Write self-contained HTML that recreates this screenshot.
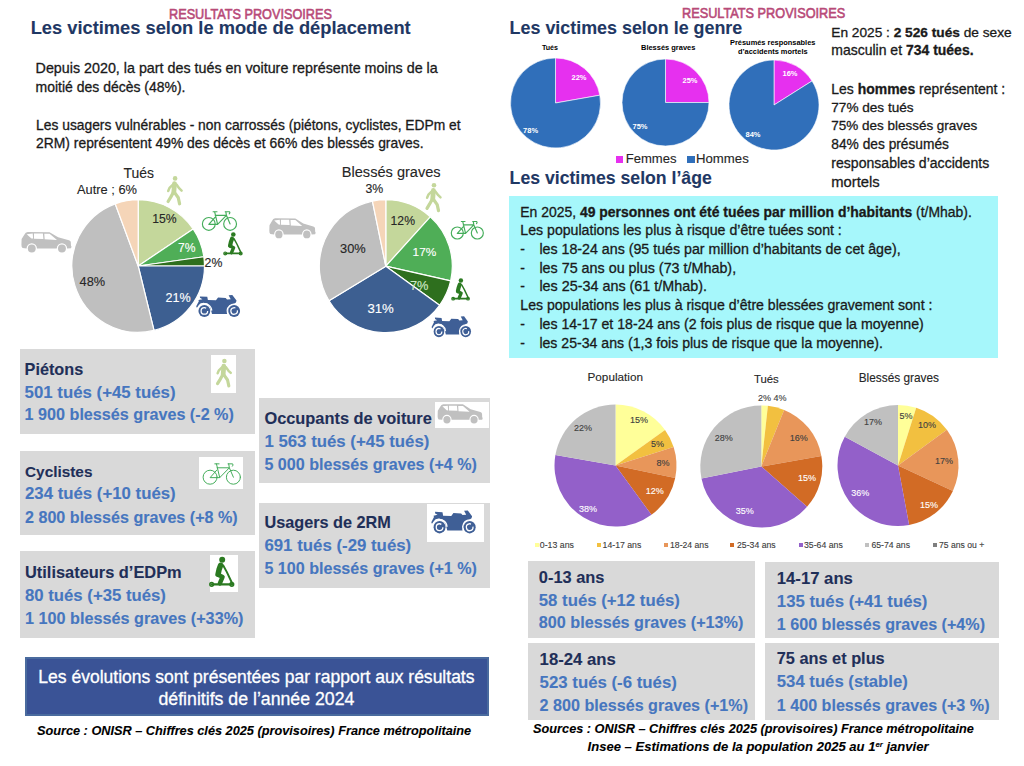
<!DOCTYPE html><html><head><meta charset="utf-8"><style>
html,body{margin:0;padding:0;background:#fff;width:1024px;height:766px;overflow:hidden}
body{position:relative;font-family:"Liberation Sans",sans-serif}
.t{position:absolute;white-space:pre}
.k{-webkit-text-stroke:0.3px currentColor}
.kb{-webkit-text-stroke:0.1px currentColor}
.k2{-webkit-text-stroke:0.6px currentColor}
.ka{-webkit-text-stroke:0.12px currentColor}
.r{position:absolute}
svg{position:absolute;left:0;top:0}
</style></head><body>
<div class="r" style="left:20px;top:349px;width:235px;height:85px;background:#d9d9d9;"></div>
<div class="r" style="left:20px;top:451px;width:235px;height:84px;background:#d9d9d9;"></div>
<div class="r" style="left:20px;top:551px;width:235px;height:87px;background:#d9d9d9;"></div>
<div class="r" style="left:259px;top:398px;width:231px;height:85px;background:#d9d9d9;"></div>
<div class="r" style="left:259px;top:503px;width:231px;height:85px;background:#d9d9d9;"></div>
<div class="r" style="left:25px;top:657px;width:464px;height:59px;background:#3a5396;box-sizing:border-box;border:2px solid #4a6b9e"></div>
<div class="r" style="left:509px;top:196px;width:489px;height:162px;background:#a6f7fb;"></div>
<div class="r" style="left:528px;top:561px;width:227px;height:77px;background:#d9d9d9;"></div>
<div class="r" style="left:528px;top:643px;width:227px;height:77px;background:#d9d9d9;"></div>
<div class="r" style="left:765px;top:562px;width:234px;height:76px;background:#d9d9d9;"></div>
<div class="r" style="left:765px;top:643px;width:234px;height:77px;background:#d9d9d9;"></div>
<div class="r" style="left:211px;top:355px;width:25px;height:38px;background:#fff;"></div>
<div class="r" style="left:199px;top:457px;width:44px;height:32px;background:#fff;"></div>
<div class="r" style="left:210px;top:555px;width:28px;height:37px;background:#fff;"></div>
<div class="r" style="left:435px;top:402px;width:54px;height:26px;background:#fff;"></div>
<div class="r" style="left:427px;top:504px;width:57px;height:38px;background:#fff;"></div>
<div class="r" style="left:615.5px;top:155.5px;width:7.5px;height:7.5px;background:#e630ef;"></div>
<div class="r" style="left:687px;top:155.5px;width:7.5px;height:7.5px;background:#306fba;"></div>
<div class="r" style="left:534.7px;top:543px;width:4.0px;height:4px;background:#ffff99;"></div>
<div class="r" style="left:596.8px;top:543px;width:4.0px;height:4px;background:#f2c040;"></div>
<div class="r" style="left:663.6px;top:543px;width:4.0px;height:4px;background:#e8965a;"></div>
<div class="r" style="left:730.4px;top:543px;width:4.0px;height:4px;background:#d26b25;"></div>
<div class="r" style="left:798.6px;top:543px;width:4.0px;height:4px;background:#9360c9;"></div>
<div class="r" style="left:865.3px;top:543px;width:4.0px;height:4px;background:#c0c0c0;"></div>
<div class="r" style="left:933px;top:543px;width:4px;height:4px;background:#7f7f7f;"></div>
<svg width="1024" height="766" viewBox="0 0 1024 766">
<path d="M138.20,266.00 L138.20,199.70 A66.3,66.3 0 0 1 193.17,228.93 Z" fill="#c4d79b" stroke="#fff" stroke-width="1.2" stroke-linejoin="round"/>
<path d="M138.20,266.00 L193.17,228.93 A66.3,66.3 0 0 1 203.85,256.77 Z" fill="#4fae57" stroke="#fff" stroke-width="1.2" stroke-linejoin="round"/>
<path d="M138.20,266.00 L203.85,256.77 A66.3,66.3 0 0 1 204.50,266.00 Z" fill="#2e6f1e" stroke="#fff" stroke-width="1.2" stroke-linejoin="round"/>
<path d="M138.20,266.00 L204.50,266.00 A66.3,66.3 0 0 1 154.01,330.39 Z" fill="#3d5f91" stroke="#fff" stroke-width="1.2" stroke-linejoin="round"/>
<path d="M138.20,266.00 L154.01,330.39 A66.3,66.3 0 0 1 115.20,203.82 Z" fill="#bfbfbf" stroke="#fff" stroke-width="1.2" stroke-linejoin="round"/>
<path d="M138.20,266.00 L115.20,203.82 A66.3,66.3 0 0 1 138.20,199.70 Z" fill="#f5d5b8" stroke="#fff" stroke-width="1.2" stroke-linejoin="round"/>
<path d="M385.80,266.20 L385.80,199.70 A66.5,66.5 0 0 1 430.30,216.78 Z" fill="#c4d79b" stroke="#fff" stroke-width="1.2" stroke-linejoin="round"/>
<path d="M385.80,266.20 L430.30,216.78 A66.5,66.5 0 0 1 450.65,280.93 Z" fill="#4fae57" stroke="#fff" stroke-width="1.2" stroke-linejoin="round"/>
<path d="M385.80,266.20 L450.65,280.93 A66.5,66.5 0 0 1 439.60,305.29 Z" fill="#2e6f1e" stroke="#fff" stroke-width="1.2" stroke-linejoin="round"/>
<path d="M385.80,266.20 L439.60,305.29 A66.5,66.5 0 0 1 328.98,300.75 Z" fill="#3d5f91" stroke="#fff" stroke-width="1.2" stroke-linejoin="round"/>
<path d="M385.80,266.20 L328.98,300.75 A66.5,66.5 0 0 1 372.43,201.06 Z" fill="#bfbfbf" stroke="#fff" stroke-width="1.2" stroke-linejoin="round"/>
<path d="M385.80,266.20 L372.43,201.06 A66.5,66.5 0 0 1 385.80,199.70 Z" fill="#f5d5b8" stroke="#fff" stroke-width="1.2" stroke-linejoin="round"/>
<path d="M555.50,103.00 L555.50,58.00 A45,45 0 0 1 599.82,95.19 Z" fill="#e630ef" stroke="#fff" stroke-width="0.6" stroke-linejoin="round"/>
<path d="M555.50,103.00 L599.82,95.19 A45,45 0 1 1 555.50,58.00 Z" fill="#306fba" stroke="#fff" stroke-width="0.6" stroke-linejoin="round"/>
<path d="M665.50,102.50 L665.50,59.00 A43.5,43.5 0 0 1 709.00,102.50 Z" fill="#e630ef" stroke="#fff" stroke-width="0.6" stroke-linejoin="round"/>
<path d="M665.50,102.50 L709.00,102.50 A43.5,43.5 0 1 1 665.50,59.00 Z" fill="#306fba" stroke="#fff" stroke-width="0.6" stroke-linejoin="round"/>
<path d="M774.00,105.00 L774.00,60.00 A45,45 0 0 1 812.04,80.95 Z" fill="#e630ef" stroke="#fff" stroke-width="0.6" stroke-linejoin="round"/>
<path d="M774.00,105.00 L812.04,80.95 A45,45 0 1 1 774.00,60.00 Z" fill="#306fba" stroke="#fff" stroke-width="0.6" stroke-linejoin="round"/>
<path d="M615.50,465.50 L615.50,404.50 A61,61 0 0 1 665.04,429.90 Z" fill="#ffff99" stroke="none"/>
<path d="M615.50,465.50 L665.04,429.90 A61,61 0 0 1 673.61,446.95 Z" fill="#f2c040" stroke="none"/>
<path d="M615.50,465.50 L673.61,446.95 A61,61 0 0 1 675.21,477.97 Z" fill="#e8965a" stroke="none"/>
<path d="M615.50,465.50 L675.21,477.97 A61,61 0 0 1 651.44,514.79 Z" fill="#d26b25" stroke="none"/>
<path d="M615.50,465.50 L651.44,514.79 A61,61 0 0 1 555.39,455.12 Z" fill="#9360c9" stroke="none"/>
<path d="M615.50,465.50 L555.39,455.12 A61,61 0 0 1 615.50,404.50 Z" fill="#c0c0c0" stroke="none"/>
<path d="M761.30,466.50 L761.30,405.50 A61,61 0 0 1 767.89,405.86 Z" fill="#ffff99" stroke="none"/>
<path d="M761.30,466.50 L767.89,405.86 A61,61 0 0 1 784.15,409.94 Z" fill="#f2c040" stroke="none"/>
<path d="M761.30,466.50 L784.15,409.94 A61,61 0 0 1 821.37,455.91 Z" fill="#e8965a" stroke="none"/>
<path d="M761.30,466.50 L821.37,455.91 A61,61 0 0 1 807.06,506.84 Z" fill="#d26b25" stroke="none"/>
<path d="M761.30,466.50 L807.06,506.84 A61,61 0 0 1 701.48,478.45 Z" fill="#9360c9" stroke="none"/>
<path d="M761.30,466.50 L701.48,478.45 A61,61 0 0 1 761.30,405.50 Z" fill="#c0c0c0" stroke="none"/>
<path d="M898.00,465.50 L898.00,405.00 A60.5,60.5 0 0 1 916.19,407.80 Z" fill="#ffff99" stroke="none"/>
<path d="M898.00,465.50 L916.19,407.80 A60.5,60.5 0 0 1 946.88,429.85 Z" fill="#f2c040" stroke="none"/>
<path d="M898.00,465.50 L946.88,429.85 A60.5,60.5 0 0 1 952.88,490.97 Z" fill="#e8965a" stroke="none"/>
<path d="M898.00,465.50 L952.88,490.97 A60.5,60.5 0 0 1 909.13,524.97 Z" fill="#d26b25" stroke="none"/>
<path d="M898.00,465.50 L909.13,524.97 A60.5,60.5 0 0 1 844.78,436.72 Z" fill="#9360c9" stroke="none"/>
<path d="M898.00,465.50 L844.78,436.72 A60.5,60.5 0 0 1 898.00,405.00 Z" fill="#c0c0c0" stroke="none"/>
<g transform="translate(21.3,232) scale(0.06350,0.06375)">
<path fill="#c0c0c0" d="M5,110 L50,40 Q65,5 100,0 L445,2 L580,82 L750,130 Q780,140 780,160 L782,210 Q800,230 782,255 L722,258 A82,82 0 0 0 558,258 L247,258 A82,82 0 0 0 83,258 L20,252 Q0,235 2,200 Z"/>
<path fill="#fff" d="M85,35 L180,25 L186,102 L160,100 Z M200,25 L340,25 L348,108 L200,105 Z M362,28 L445,28 L562,125 L368,115 Z"/>
<circle cx="165" cy="258" r="62" fill="#c0c0c0"/><circle cx="640" cy="258" r="62" fill="#c0c0c0"/>
</g>
<g transform="translate(269.2,218.3) scale(0.05875,0.06250)">
<path fill="#c0c0c0" d="M5,110 L50,40 Q65,5 100,0 L445,2 L580,82 L750,130 Q780,140 780,160 L782,210 Q800,230 782,255 L722,258 A82,82 0 0 0 558,258 L247,258 A82,82 0 0 0 83,258 L20,252 Q0,235 2,200 Z"/>
<path fill="#fff" d="M85,35 L180,25 L186,102 L160,100 Z M200,25 L340,25 L348,108 L200,105 Z M362,28 L445,28 L562,125 L368,115 Z"/>
<circle cx="165" cy="258" r="62" fill="#c0c0c0"/><circle cx="640" cy="258" r="62" fill="#c0c0c0"/>
</g>
<g transform="translate(437.5,404.2) scale(0.05713,0.06062)">
<path fill="#c0c0c0" d="M5,110 L50,40 Q65,5 100,0 L445,2 L580,82 L750,130 Q780,140 780,160 L782,210 Q800,230 782,255 L722,258 A82,82 0 0 0 558,258 L247,258 A82,82 0 0 0 83,258 L20,252 Q0,235 2,200 Z"/>
<path fill="#fff" d="M85,35 L180,25 L186,102 L160,100 Z M200,25 L340,25 L348,108 L200,105 Z M362,28 L445,28 L562,125 L368,115 Z"/>
<circle cx="165" cy="258" r="62" fill="#c0c0c0"/><circle cx="640" cy="258" r="62" fill="#c0c0c0"/>
</g>
<g transform="translate(175.1,178.4) scale(1.0)" stroke="#c4d79b" stroke-linecap="round" stroke-linejoin="round" fill="none">
<circle cx="0" cy="0" r="2.3" fill="#c4d79b" stroke="none"/>
<path d="M-0.6,5.2 L-1.3,14" stroke-width="4.8"/>
<path d="M-2.2,6.2 L-5.6,9.5 L-6.9,12.6" stroke-width="2.5"/>
<path d="M1.4,6.2 L4.2,10 L6.5,12.2" stroke-width="2.5"/>
<path d="M-2,14.5 L-4.5,19 L-7.0,23.1" stroke-width="3.2"/>
<path d="M-0.3,14.5 L3.2,19.4 L4.5,25.4" stroke-width="3.2"/>
</g>
<g transform="translate(434,185.2) scale(1.0)" stroke="#c4d79b" stroke-linecap="round" stroke-linejoin="round" fill="none">
<circle cx="0" cy="0" r="2.3" fill="#c4d79b" stroke="none"/>
<path d="M-0.6,5.2 L-1.3,14" stroke-width="4.8"/>
<path d="M-2.2,6.2 L-5.6,9.5 L-6.9,12.6" stroke-width="2.5"/>
<path d="M1.4,6.2 L4.2,10 L6.5,12.2" stroke-width="2.5"/>
<path d="M-2,14.5 L-4.5,19 L-7.0,23.1" stroke-width="3.2"/>
<path d="M-0.3,14.5 L3.2,19.4 L4.5,25.4" stroke-width="3.2"/>
</g>
<g transform="translate(224.4,361) scale(0.98)" stroke="#c4d79b" stroke-linecap="round" stroke-linejoin="round" fill="none">
<circle cx="0" cy="0" r="2.3" fill="#c4d79b" stroke="none"/>
<path d="M-0.6,5.2 L-1.3,14" stroke-width="4.8"/>
<path d="M-2.2,6.2 L-5.6,9.5 L-6.9,12.6" stroke-width="2.5"/>
<path d="M1.4,6.2 L4.2,10 L6.5,12.2" stroke-width="2.5"/>
<path d="M-2,14.5 L-4.5,19 L-7.0,23.1" stroke-width="3.2"/>
<path d="M-0.3,14.5 L3.2,19.4 L4.5,25.4" stroke-width="3.2"/>
</g>
<g transform="translate(208.8,223.9) scale(1.0)" stroke="#44ad5a" stroke-width="1.150" fill="none" stroke-linecap="round" stroke-linejoin="round">
<circle cx="0" cy="0" r="6.4"/><circle cx="21.3" cy="0" r="6.4"/>
<path d="M4.3,-12.2 L8.2,-12.2 M5.8,-12.2 L8.8,0.4 L0,0.4 L6.2,-6.6 M6.4,-8.6 L17.6,-8.6 L8.8,0.4 M17.0,-12.2 L17.6,-8.6 L21.3,0 M16.4,-12.2 L20.6,-12.2 Q21.6,-11.2 20.4,-10"/>
</g>
<g transform="translate(457.3,233) scale(0.94)" stroke="#44ad5a" stroke-width="1.223" fill="none" stroke-linecap="round" stroke-linejoin="round">
<circle cx="0" cy="0" r="6.4"/><circle cx="21.3" cy="0" r="6.4"/>
<path d="M4.3,-12.2 L8.2,-12.2 M5.8,-12.2 L8.8,0.4 L0,0.4 L6.2,-6.6 M6.4,-8.6 L17.6,-8.6 L8.8,0.4 M17.0,-12.2 L17.6,-8.6 L21.3,0 M16.4,-12.2 L20.6,-12.2 Q21.6,-11.2 20.4,-10"/>
</g>
<g transform="translate(210.1,477.2) scale(1.094)" stroke="#44ad5a" stroke-width="0.914" fill="none" stroke-linecap="round" stroke-linejoin="round">
<circle cx="0" cy="0" r="6.4"/><circle cx="21.3" cy="0" r="6.4"/>
<path d="M4.3,-12.2 L8.2,-12.2 M5.8,-12.2 L8.8,0.4 L0,0.4 L6.2,-6.6 M6.4,-8.6 L17.6,-8.6 L8.8,0.4 M17.0,-12.2 L17.6,-8.6 L21.3,0 M16.4,-12.2 L20.6,-12.2 Q21.6,-11.2 20.4,-10"/>
</g>
<g transform="translate(233.3,234.5) scale(1.0)" stroke="#2b7a21" fill="none" stroke-linecap="round" stroke-linejoin="round">
<circle cx="0" cy="0" r="2.3" fill="#2b7a21" stroke="none"/>
<path d="M-1.2,4.2 L-2.4,7.5 L-3.2,11.2" stroke-width="4.2"/>
<path d="M-3.2,11.4 L0.3,13.2 L-1.8,18.2" stroke-width="3.4"/>
<path d="M0.8,4.4 L3.6,9.5 L7.9,18.6" stroke-width="1.5"/>
<path d="M-8.2,18.9 L7.6,18.9" stroke-width="1.7"/>
<circle cx="-8.1" cy="18.9" r="1.4" stroke-width="1.2"/><circle cx="7.4" cy="18.9" r="1.4" stroke-width="1.2"/>
</g>
<g transform="translate(460.9,280.5) scale(0.96)" stroke="#2b7a21" fill="none" stroke-linecap="round" stroke-linejoin="round">
<circle cx="0" cy="0" r="2.3" fill="#2b7a21" stroke="none"/>
<path d="M-1.2,4.2 L-2.4,7.5 L-3.2,11.2" stroke-width="4.2"/>
<path d="M-3.2,11.4 L0.3,13.2 L-1.8,18.2" stroke-width="3.4"/>
<path d="M0.8,4.4 L3.6,9.5 L7.9,18.6" stroke-width="1.5"/>
<path d="M-8.2,18.9 L7.6,18.9" stroke-width="1.7"/>
<circle cx="-8.1" cy="18.9" r="1.4" stroke-width="1.2"/><circle cx="7.4" cy="18.9" r="1.4" stroke-width="1.2"/>
</g>
<g transform="translate(222.2,559.8) scale(1.3)" stroke="#2b7a21" fill="none" stroke-linecap="round" stroke-linejoin="round">
<circle cx="0" cy="0" r="2.3" fill="#2b7a21" stroke="none"/>
<path d="M-1.2,4.2 L-2.4,7.5 L-3.2,11.2" stroke-width="4.2"/>
<path d="M-3.2,11.4 L0.3,13.2 L-1.8,18.2" stroke-width="3.4"/>
<path d="M0.8,4.4 L3.6,9.5 L7.9,18.6" stroke-width="1.5"/>
<path d="M-8.2,18.9 L7.6,18.9" stroke-width="1.7"/>
<circle cx="-8.1" cy="18.9" r="1.4" stroke-width="1.2"/><circle cx="7.4" cy="18.9" r="1.4" stroke-width="1.2"/>
</g>
<g transform="translate(196.2,294.9) scale(0.05270,0.05270) translate(-80,-130)">
<path fill="#3f5f96" d="M150,158 L290,165 L302,228 L455,232 L495,180 L640,188 L665,215 L735,212 L695,138 L765,132 L845,235 L835,272 L770,312 L705,338 L668,492 L380,492 L350,380 L300,300 L220,278 L160,292 L92,372 L80,345 L130,250 L122,228 L198,212 L152,186 Z"/>
<circle cx="235" cy="435" r="140" fill="none" stroke="#fff" stroke-width="24" stroke-dasharray="345 1000" transform="rotate(215 235 435)"/>
<circle cx="800" cy="435" r="132" fill="none" stroke="#fff" stroke-width="24" stroke-dasharray="300 1000" transform="rotate(140 800 435)"/>
<circle cx="235" cy="435" r="112" fill="#3f5f96"/>
<circle cx="800" cy="435" r="112" fill="#3f5f96"/>
<circle cx="235" cy="435" r="62" fill="none" stroke="#fff" stroke-width="24" stroke-dasharray="320 1000" transform="rotate(0 235 435)"/>
<circle cx="800" cy="435" r="62" fill="none" stroke="#fff" stroke-width="24" stroke-dasharray="320 1000" transform="rotate(-10 800 435)"/>
</g>
<g transform="translate(431.6,316.1) scale(0.04740,0.05080) translate(-80,-130)">
<path fill="#3f5f96" d="M150,158 L290,165 L302,228 L455,232 L495,180 L640,188 L665,215 L735,212 L695,138 L765,132 L845,235 L835,272 L770,312 L705,338 L668,492 L380,492 L350,380 L300,300 L220,278 L160,292 L92,372 L80,345 L130,250 L122,228 L198,212 L152,186 Z"/>
<circle cx="235" cy="435" r="140" fill="none" stroke="#fff" stroke-width="24" stroke-dasharray="345 1000" transform="rotate(215 235 435)"/>
<circle cx="800" cy="435" r="132" fill="none" stroke="#fff" stroke-width="24" stroke-dasharray="300 1000" transform="rotate(140 800 435)"/>
<circle cx="235" cy="435" r="112" fill="#3f5f96"/>
<circle cx="800" cy="435" r="112" fill="#3f5f96"/>
<circle cx="235" cy="435" r="62" fill="none" stroke="#fff" stroke-width="24" stroke-dasharray="320 1000" transform="rotate(0 235 435)"/>
<circle cx="800" cy="435" r="62" fill="none" stroke="#fff" stroke-width="24" stroke-dasharray="320 1000" transform="rotate(-10 800 435)"/>
</g>
<g transform="translate(431.3,510.3) scale(0.05330,0.05550) translate(-80,-130)">
<path fill="#3f5f96" d="M150,158 L290,165 L302,228 L455,232 L495,180 L640,188 L665,215 L735,212 L695,138 L765,132 L845,235 L835,272 L770,312 L705,338 L668,492 L380,492 L350,380 L300,300 L220,278 L160,292 L92,372 L80,345 L130,250 L122,228 L198,212 L152,186 Z"/>
<circle cx="235" cy="435" r="140" fill="none" stroke="#fff" stroke-width="24" stroke-dasharray="345 1000" transform="rotate(215 235 435)"/>
<circle cx="800" cy="435" r="132" fill="none" stroke="#fff" stroke-width="24" stroke-dasharray="300 1000" transform="rotate(140 800 435)"/>
<circle cx="235" cy="435" r="112" fill="#3f5f96"/>
<circle cx="800" cy="435" r="112" fill="#3f5f96"/>
<circle cx="235" cy="435" r="62" fill="none" stroke="#fff" stroke-width="24" stroke-dasharray="320 1000" transform="rotate(0 235 435)"/>
<circle cx="800" cy="435" r="62" fill="none" stroke="#fff" stroke-width="24" stroke-dasharray="320 1000" transform="rotate(-10 800 435)"/>
</g>
</svg>
<div class="t k2" style="left:169.00px;top:5.52px;font-size:14.525px;line-height:17.43px;font-weight:normal;font-style:normal;color:#b84a78;transform:scaleX(0.8743);transform-origin:0 0">RESULTATS PROVISOIRES</div>
<div class="t kb" style="left:30.70px;top:17.21px;font-size:18.296px;line-height:21.96px;font-weight:bold;font-style:normal;color:#1f3864">Les victimes selon le mode de déplacement</div>
<div class="t k" style="left:35.60px;top:59.71px;font-size:14.306px;line-height:17.17px;font-weight:normal;font-style:normal;color:#1a1a1a">Depuis 2020, la part des tués en voiture représente moins de la</div>
<div class="t k" style="left:35.60px;top:78.81px;font-size:13.983px;line-height:16.78px;font-weight:normal;font-style:normal;color:#1a1a1a">moitié des décès (48%).</div>
<div class="t k" style="left:36.10px;top:116.80px;font-size:13.828px;line-height:16.59px;font-weight:normal;font-style:normal;color:#1a1a1a">Les usagers vulnérables - non carrossés (piétons, cyclistes, EDPm et</div>
<div class="t k" style="left:36.10px;top:135.21px;font-size:13.874px;line-height:16.65px;font-weight:normal;font-style:normal;color:#1a1a1a">2RM) représentent 49% des décès et 66% des blessés graves.</div>
<div class="t ka" style="left:123.50px;top:164.61px;font-size:13.952px;line-height:16.74px;font-weight:normal;font-style:normal;color:#262626">Tués</div>
<div class="t ka" style="left:77.00px;top:181.70px;font-size:12.851px;line-height:15.42px;font-weight:normal;font-style:normal;color:#262626">Autre ; 6%</div>
<div class="t ka" style="left:152.30px;top:212.01px;font-size:12.190px;line-height:14.63px;font-weight:normal;font-style:normal;color:#262626">15%</div>
<div class="t ka" style="left:178.00px;top:241.31px;font-size:12.108px;line-height:14.53px;font-weight:normal;font-style:normal;color:#ffffff">7%</div>
<div class="t ka" style="left:204.60px;top:256.41px;font-size:12.316px;line-height:14.78px;font-weight:normal;font-style:normal;color:#262626">2%</div>
<div class="t ka" style="left:165.50px;top:291.00px;font-size:12.590px;line-height:15.11px;font-weight:normal;font-style:normal;color:#ffffff">21%</div>
<div class="t ka" style="left:79.60px;top:273.71px;font-size:12.790px;line-height:15.35px;font-weight:normal;font-style:normal;color:#262626">48%</div>
<div class="t ka" style="left:341.80px;top:164.01px;font-size:14.585px;line-height:17.5px;font-weight:normal;font-style:normal;color:#262626">Blessés graves</div>
<div class="t ka" style="left:365.50px;top:181.51px;font-size:12.316px;line-height:14.78px;font-weight:normal;font-style:normal;color:#262626">3%</div>
<div class="t ka" style="left:390.60px;top:213.71px;font-size:12.190px;line-height:14.63px;font-weight:normal;font-style:normal;color:#262626">12%</div>
<div class="t ka" style="left:412.60px;top:245.40px;font-size:11.841px;line-height:14.21px;font-weight:normal;font-style:normal;color:#ffffff">17%</div>
<div class="t ka" style="left:410.00px;top:278.01px;font-size:12.800px;line-height:15.36px;font-weight:normal;font-style:normal;color:#cfe8c8">7%</div>
<div class="t ka" style="left:367.40px;top:301.31px;font-size:13.190px;line-height:15.83px;font-weight:normal;font-style:normal;color:#ffffff">31%</div>
<div class="t ka" style="left:340.00px;top:240.81px;font-size:12.840px;line-height:15.41px;font-weight:normal;font-style:normal;color:#262626">30%</div>
<div class="t kb" style="left:24.60px;top:360.00px;font-size:16.224px;line-height:19.47px;font-weight:bold;font-style:normal;color:#1f2f58">Piétons</div>
<div class="t kb" style="left:24.60px;top:383.00px;font-size:16.822px;line-height:20.19px;font-weight:bold;font-style:normal;color:#4676bf">501 tués (+45 tués)</div>
<div class="t kb" style="left:24.60px;top:405.01px;font-size:16.167px;line-height:19.4px;font-weight:bold;font-style:normal;color:#4676bf">1 900 blessés graves (-2 %)</div>
<div class="t kb" style="left:25.00px;top:462.50px;font-size:15.370px;line-height:18.44px;font-weight:bold;font-style:normal;color:#1f2f58">Cyclistes</div>
<div class="t kb" style="left:25.00px;top:484.01px;font-size:16.799px;line-height:20.16px;font-weight:bold;font-style:normal;color:#4676bf">234 tués (+10 tués)</div>
<div class="t kb" style="left:25.00px;top:507.50px;font-size:16.125px;line-height:19.35px;font-weight:bold;font-style:normal;color:#4676bf">2 800 blessés graves (+8 %)</div>
<div class="t kb" style="left:25.00px;top:563.00px;font-size:16.405px;line-height:19.69px;font-weight:bold;font-style:normal;color:#1f2f58">Utilisateurs d’EDPm</div>
<div class="t kb" style="left:25.00px;top:586.01px;font-size:16.745px;line-height:20.09px;font-weight:bold;font-style:normal;color:#4676bf">80 tués (+35 tués)</div>
<div class="t kb" style="left:25.00px;top:609.01px;font-size:16.215px;line-height:19.46px;font-weight:bold;font-style:normal;color:#4676bf">1 100 blessés graves (+33%)</div>
<div class="t kb" style="left:264.40px;top:409.01px;font-size:16.382px;line-height:19.66px;font-weight:bold;font-style:normal;color:#1f2f58">Occupants de voiture</div>
<div class="t kb" style="left:264.40px;top:431.90px;font-size:16.829px;line-height:20.19px;font-weight:bold;font-style:normal;color:#4676bf">1 563 tués (+45 tués)</div>
<div class="t kb" style="left:264.40px;top:454.60px;font-size:16.102px;line-height:19.32px;font-weight:bold;font-style:normal;color:#4676bf">5 000 blessés graves (+4 %)</div>
<div class="t kb" style="left:264.40px;top:513.31px;font-size:16.258px;line-height:19.51px;font-weight:bold;font-style:normal;color:#1f2f58">Usagers de 2RM</div>
<div class="t kb" style="left:264.40px;top:536.00px;font-size:16.835px;line-height:20.2px;font-weight:bold;font-style:normal;color:#4676bf">691 tués (-29 tués)</div>
<div class="t kb" style="left:264.40px;top:559.01px;font-size:16.102px;line-height:19.32px;font-weight:bold;font-style:normal;color:#4676bf">5 100 blessés graves (+1 %)</div>
<div class="t k" style="left:38.30px;top:666.51px;font-size:17.528px;line-height:21.03px;font-weight:normal;font-style:normal;color:#ffffff">Les évolutions sont présentées par rapport aux résultats</div>
<div class="t k" style="left:158.50px;top:688.51px;font-size:17.715px;line-height:21.26px;font-weight:normal;font-style:normal;color:#ffffff">définitifs de l’année 2024</div>
<div class="t kb" style="left:36.90px;top:723.21px;font-size:12.740px;line-height:15.29px;font-weight:bold;font-style:italic;color:#000000">Source : ONISR – Chiffres clés 2025 (provisoires) France métropolitaine</div>
<div class="t k2" style="left:682.30px;top:5.21px;font-size:14.525px;line-height:17.43px;font-weight:normal;font-style:normal;color:#b84a78;transform:scaleX(0.8759);transform-origin:0 0">RESULTATS PROVISOIRES</div>
<div class="t kb" style="left:509.60px;top:18.32px;font-size:17.907px;line-height:21.49px;font-weight:bold;font-style:normal;color:#1f3864">Les victimes selon le genre</div>
<div class="t" style="left:542.00px;top:44.00px;font-size:7.080px;line-height:8.5px;font-weight:bold;font-style:normal;color:#000000">Tués</div>
<div class="t" style="left:641.00px;top:42.51px;font-size:7.483px;line-height:8.98px;font-weight:bold;font-style:normal;color:#000000">Blessés graves</div>
<div class="t" style="left:730.00px;top:39.31px;font-size:7.431px;line-height:8.92px;font-weight:bold;font-style:normal;color:#000000">Présumés responsables</div>
<div class="t" style="left:738.00px;top:47.82px;font-size:7.410px;line-height:8.89px;font-weight:bold;font-style:normal;color:#000000">d’accidents mortels</div>
<div class="t" style="left:571.49px;top:73.01px;font-size:7.500px;line-height:9.0px;font-weight:bold;font-style:normal;color:#ffffff">22%</div>
<div class="t" style="left:523.09px;top:125.60px;font-size:7.500px;line-height:9.0px;font-weight:bold;font-style:normal;color:#ffffff">78%</div>
<div class="t" style="left:682.49px;top:76.31px;font-size:7.500px;line-height:9.0px;font-weight:bold;font-style:normal;color:#ffffff">25%</div>
<div class="t" style="left:632.49px;top:122.40px;font-size:7.500px;line-height:9.0px;font-weight:bold;font-style:normal;color:#ffffff">75%</div>
<div class="t" style="left:782.49px;top:69.20px;font-size:7.500px;line-height:9.0px;font-weight:bold;font-style:normal;color:#ffffff">16%</div>
<div class="t" style="left:745.49px;top:130.01px;font-size:7.500px;line-height:9.0px;font-weight:bold;font-style:normal;color:#ffffff">84%</div>
<div class="t ka" style="left:625.70px;top:151.41px;font-size:13.087px;line-height:15.7px;font-weight:normal;font-style:normal;color:#262626">Femmes</div>
<div class="t ka" style="left:696.00px;top:151.41px;font-size:13.198px;line-height:15.84px;font-weight:normal;font-style:normal;color:#262626">Hommes</div>
<div class="t k" style="left:831.30px;top:25.31px;font-size:13.691px;line-height:16.43px;font-weight:normal;font-style:normal;color:#1a1a1a">En 2025 : <b>2 526 tués</b> de sexe</div>
<div class="t k" style="left:831.30px;top:42.41px;font-size:13.999px;line-height:16.8px;font-weight:normal;font-style:normal;color:#1a1a1a">masculin et <b>734 tuées.</b></div>
<div class="t k" style="left:831.30px;top:80.51px;font-size:13.975px;line-height:16.77px;font-weight:normal;font-style:normal;color:#1a1a1a">Les <b>hommes</b> représentent :</div>
<div class="t k" style="left:831.30px;top:99.82px;font-size:13.582px;line-height:16.3px;font-weight:normal;font-style:normal;color:#1a1a1a">77% des tués</div>
<div class="t k" style="left:831.30px;top:118.20px;font-size:13.479px;line-height:16.17px;font-weight:normal;font-style:normal;color:#1a1a1a">75% des blessés graves</div>
<div class="t k" style="left:831.30px;top:137.31px;font-size:13.750px;line-height:16.5px;font-weight:normal;font-style:normal;color:#1a1a1a">84% des présumés</div>
<div class="t k" style="left:831.30px;top:154.61px;font-size:14.071px;line-height:16.88px;font-weight:normal;font-style:normal;color:#1a1a1a">responsables d’accidents</div>
<div class="t k" style="left:831.30px;top:173.50px;font-size:14.794px;line-height:17.75px;font-weight:normal;font-style:normal;color:#1a1a1a">mortels</div>
<div class="t kb" style="left:509.60px;top:167.50px;font-size:17.677px;line-height:21.21px;font-weight:bold;font-style:normal;color:#1f3864">Les victimes selon l’âge</div>
<div class="t k" style="left:520.30px;top:203.51px;font-size:13.942px;line-height:16.73px;font-weight:normal;font-style:normal;color:#1a1a1a">En 2025, <b>49 personnes ont été tuées par million d’habitants</b> (t/Mhab).</div>
<div class="t k" style="left:520.30px;top:222.22px;font-size:14.154px;line-height:16.98px;font-weight:normal;font-style:normal;color:#1a1a1a">Les populations les plus à risque d’être tuées sont :</div>
<div class="t k" style="left:520.30px;top:241.01px;font-size:13.942px;line-height:16.73px;font-weight:normal;font-style:normal;color:#1a1a1a">-</div>
<div class="t k" style="left:539.40px;top:241.01px;font-size:14.234px;line-height:17.08px;font-weight:normal;font-style:normal;color:#1a1a1a">les 18-24 ans (95 tués par million d’habitants de cet âge),</div>
<div class="t k" style="left:520.30px;top:259.71px;font-size:13.942px;line-height:16.73px;font-weight:normal;font-style:normal;color:#1a1a1a">-</div>
<div class="t k" style="left:539.40px;top:259.71px;font-size:14.334px;line-height:17.2px;font-weight:normal;font-style:normal;color:#1a1a1a">les 75 ans ou plus (73 t/Mhab),</div>
<div class="t k" style="left:520.30px;top:278.41px;font-size:13.942px;line-height:16.73px;font-weight:normal;font-style:normal;color:#1a1a1a">-</div>
<div class="t k" style="left:539.40px;top:278.41px;font-size:14.375px;line-height:17.25px;font-weight:normal;font-style:normal;color:#1a1a1a">les 25-34 ans (61 t/Mhab).</div>
<div class="t k" style="left:520.30px;top:297.21px;font-size:14.104px;line-height:16.93px;font-weight:normal;font-style:normal;color:#1a1a1a">Les populations les plus à risque d’être blessées gravement sont :</div>
<div class="t k" style="left:520.30px;top:316.01px;font-size:13.942px;line-height:16.73px;font-weight:normal;font-style:normal;color:#1a1a1a">-</div>
<div class="t k" style="left:539.40px;top:316.01px;font-size:14.156px;line-height:16.99px;font-weight:normal;font-style:normal;color:#1a1a1a">les 14-17 et 18-24 ans (2 fois plus de risque que la moyenne)</div>
<div class="t k" style="left:520.30px;top:334.60px;font-size:13.942px;line-height:16.73px;font-weight:normal;font-style:normal;color:#1a1a1a">-</div>
<div class="t k" style="left:539.40px;top:334.61px;font-size:14.120px;line-height:16.94px;font-weight:normal;font-style:normal;color:#1a1a1a">les 25-34 ans (1,3 fois plus de risque que la moyenne).</div>
<div class="t ka" style="left:587.50px;top:370.40px;font-size:11.743px;line-height:14.09px;font-weight:normal;font-style:normal;color:#262626">Population</div>
<div class="t ka" style="left:754.00px;top:373.01px;font-size:11.344px;line-height:13.61px;font-weight:normal;font-style:normal;color:#262626">Tués</div>
<div class="t ka" style="left:858.70px;top:371.40px;font-size:11.857px;line-height:14.23px;font-weight:normal;font-style:normal;color:#262626">Blessés graves</div>
<div class="t ka" style="left:630.00px;top:415.41px;font-size:9.026px;line-height:10.83px;font-weight:normal;font-style:normal;color:#404040">15%</div>
<div class="t ka" style="left:651.00px;top:438.91px;font-size:9.026px;line-height:10.83px;font-weight:normal;font-style:normal;color:#404040">5%</div>
<div class="t ka" style="left:656.60px;top:457.71px;font-size:9.026px;line-height:10.83px;font-weight:normal;font-style:normal;color:#404040">8%</div>
<div class="t ka" style="left:645.70px;top:485.60px;font-size:9.026px;line-height:10.83px;font-weight:normal;font-style:normal;color:#fff">12%</div>
<div class="t ka" style="left:579.00px;top:503.91px;font-size:9.026px;line-height:10.83px;font-weight:normal;font-style:normal;color:#fff">38%</div>
<div class="t ka" style="left:574.00px;top:422.50px;font-size:9.026px;line-height:10.83px;font-weight:normal;font-style:normal;color:#404040">22%</div>
<div class="t ka" style="left:758.00px;top:393.21px;font-size:9.026px;line-height:10.83px;font-weight:normal;font-style:normal;color:#404040">2% 4%</div>
<div class="t ka" style="left:714.80px;top:433.00px;font-size:9.026px;line-height:10.83px;font-weight:normal;font-style:normal;color:#404040">28%</div>
<div class="t ka" style="left:735.70px;top:506.00px;font-size:9.026px;line-height:10.83px;font-weight:normal;font-style:normal;color:#fff">35%</div>
<div class="t ka" style="left:789.70px;top:433.21px;font-size:9.026px;line-height:10.83px;font-weight:normal;font-style:normal;color:#404040">16%</div>
<div class="t ka" style="left:798.00px;top:472.71px;font-size:9.026px;line-height:10.83px;font-weight:normal;font-style:normal;color:#fff">15%</div>
<div class="t ka" style="left:899.60px;top:410.50px;font-size:9.026px;line-height:10.83px;font-weight:normal;font-style:normal;color:#404040">5%</div>
<div class="t ka" style="left:918.00px;top:420.00px;font-size:9.026px;line-height:10.83px;font-weight:normal;font-style:normal;color:#404040">10%</div>
<div class="t ka" style="left:935.00px;top:456.10px;font-size:9.026px;line-height:10.83px;font-weight:normal;font-style:normal;color:#404040">17%</div>
<div class="t ka" style="left:920.00px;top:499.60px;font-size:9.026px;line-height:10.83px;font-weight:normal;font-style:normal;color:#fff">15%</div>
<div class="t ka" style="left:851.30px;top:487.82px;font-size:9.026px;line-height:10.83px;font-weight:normal;font-style:normal;color:#fff">36%</div>
<div class="t ka" style="left:864.00px;top:417.41px;font-size:9.026px;line-height:10.83px;font-weight:normal;font-style:normal;color:#404040">17%</div>
<div class="t ka" style="left:539.80px;top:539.51px;font-size:8.788px;line-height:10.55px;font-weight:normal;font-style:normal;color:#404040">0-13 ans</div>
<div class="t ka" style="left:602.60px;top:539.50px;font-size:8.701px;line-height:10.44px;font-weight:normal;font-style:normal;color:#404040">14-17 ans</div>
<div class="t ka" style="left:670.00px;top:539.51px;font-size:8.678px;line-height:10.41px;font-weight:normal;font-style:normal;color:#404040">18-24 ans</div>
<div class="t ka" style="left:737.00px;top:539.50px;font-size:8.701px;line-height:10.44px;font-weight:normal;font-style:normal;color:#404040">25-34 ans</div>
<div class="t ka" style="left:804.00px;top:539.50px;font-size:8.746px;line-height:10.5px;font-weight:normal;font-style:normal;color:#404040">35-64 ans</div>
<div class="t ka" style="left:871.40px;top:539.50px;font-size:8.701px;line-height:10.44px;font-weight:normal;font-style:normal;color:#404040">65-74 ans</div>
<div class="t ka" style="left:939.00px;top:539.51px;font-size:8.621px;line-height:10.35px;font-weight:normal;font-style:normal;color:#404040">75 ans ou +</div>
<div class="t kb" style="left:538.80px;top:568.01px;font-size:16.415px;line-height:19.7px;font-weight:bold;font-style:normal;color:#1f2f58">0-13 ans</div>
<div class="t kb" style="left:538.80px;top:590.82px;font-size:16.769px;line-height:20.12px;font-weight:bold;font-style:normal;color:#4676bf">58 tués (+12 tués)</div>
<div class="t kb" style="left:538.80px;top:613.40px;font-size:16.185px;line-height:19.42px;font-weight:bold;font-style:normal;color:#4676bf">800 blessés graves (+13%)</div>
<div class="t kb" style="left:539.60px;top:650.01px;font-size:16.716px;line-height:20.06px;font-weight:bold;font-style:normal;color:#1f2f58">18-24 ans</div>
<div class="t kb" style="left:539.60px;top:673.21px;font-size:16.819px;line-height:20.18px;font-weight:bold;font-style:normal;color:#4676bf">523 tués (-6 tués)</div>
<div class="t kb" style="left:539.60px;top:695.72px;font-size:16.147px;line-height:19.38px;font-weight:bold;font-style:normal;color:#4676bf">2 800 blessés graves (+1%)</div>
<div class="t kb" style="left:776.80px;top:568.81px;font-size:16.694px;line-height:20.03px;font-weight:bold;font-style:normal;color:#1f2f58">14-17 ans</div>
<div class="t kb" style="left:776.80px;top:591.60px;font-size:16.799px;line-height:20.16px;font-weight:bold;font-style:normal;color:#4676bf">135 tués (+41 tués)</div>
<div class="t kb" style="left:776.80px;top:614.50px;font-size:16.139px;line-height:19.37px;font-weight:bold;font-style:normal;color:#4676bf">1 600 blessés graves (+4%)</div>
<div class="t kb" style="left:776.80px;top:649.20px;font-size:16.329px;line-height:19.6px;font-weight:bold;font-style:normal;color:#1f2f58">75 ans et plus</div>
<div class="t kb" style="left:776.80px;top:672.41px;font-size:16.729px;line-height:20.08px;font-weight:bold;font-style:normal;color:#4676bf">534 tués (stable)</div>
<div class="t kb" style="left:776.80px;top:695.70px;font-size:16.117px;line-height:19.34px;font-weight:bold;font-style:normal;color:#4676bf">1 400 blessés graves (+3 %)</div>
<div class="t kb" style="left:533.10px;top:721.32px;font-size:12.724px;line-height:15.27px;font-weight:bold;font-style:italic;color:#000000">Sources : ONISR – Chiffres clés 2025 (provisoires) France métropolitaine</div>
<div class="t kb" style="left:587.60px;top:738.80px;font-size:13.065px;line-height:15.68px;font-weight:bold;font-style:italic;color:#000000">Insee – Estimations de la population 2025 au 1<sup style="font-size:0.6em;vertical-align:0.45em;line-height:0">er</sup> janvier</div>
</body></html>
